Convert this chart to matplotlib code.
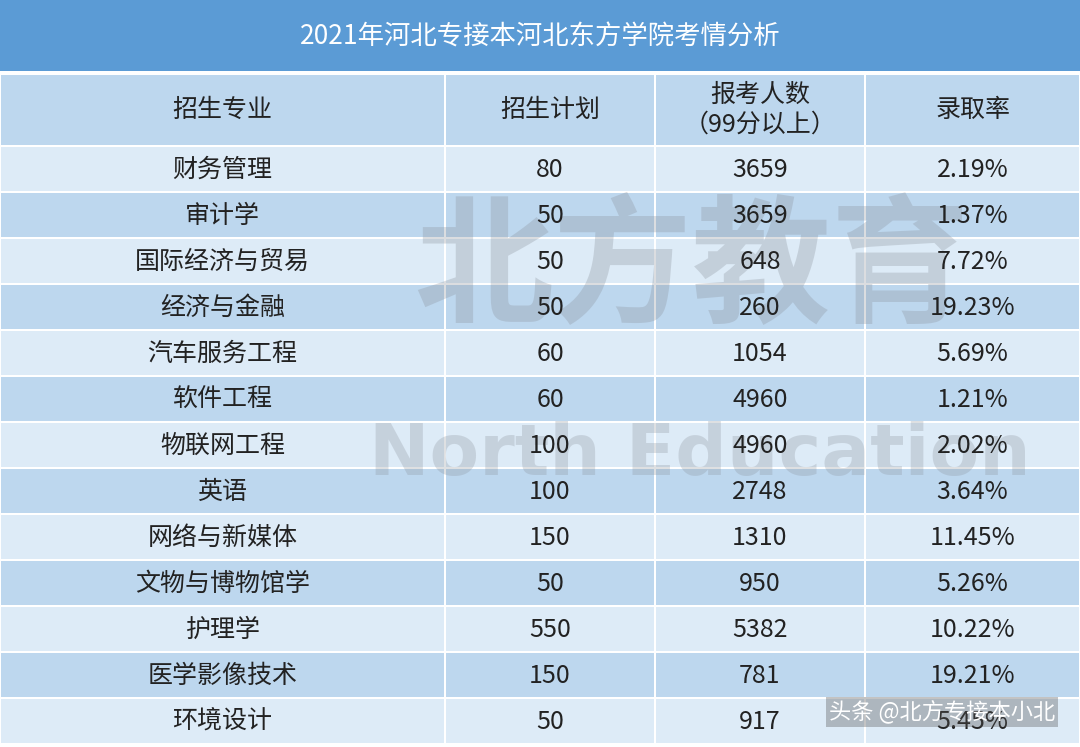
import matplotlib.pyplot as plt
from matplotlib.patches import Rectangle

plt.rcParams['font.family'] = ['Noto Sans CJK SC', 'DejaVu Sans']

title = "2021年河北专接本河北东方学院考情分析"
headers = ["招生专业", "招生计划", "报考人数\n（99分以上）", "录取率"]
majors = ["财务管理", "审计学", "国际经济与贸易", "经济与金融", "汽车服务工程", "软件工程",
          "物联网工程", "英语", "网络与新媒体", "文物与博物馆学", "护理学", "医学影像技术", "环境设计"]
plan = [80, 50, 50, 50, 60, 60, 100, 100, 150, 50, 550, 150, 50]
applicants = [3659, 3659, 648, 260, 1054, 4960, 4960, 2748, 1310, 950, 5382, 781, 917]
rate = ["2.19%", "1.37%", "7.72%", "19.23%", "5.69%", "1.21%", "2.02%", "3.64%",
        "11.45%", "5.26%", "10.22%", "19.21%", "5.45%"]

W, H = 1080, 747
col_edges = [0, 445, 655, 865, 1080]
row_h = 46
header_top, header_bot = 75, 145

fig = plt.figure(figsize=(10.8, 7.47), dpi=100)
ax = fig.add_axes([0, 0, 1, 1])
ax.set_xlim(0, W)
ax.set_ylim(H, 0)
ax.axis("off")

# title bar
ax.add_patch(Rectangle((0, 0), W, 71, color="#5B9BD5", lw=0))
ax.text(W / 2, 37, title, color="white", fontsize=19, ha="center", va="center")

# header
for i, h in enumerate(headers):
    x0, x1 = col_edges[i], col_edges[i + 1]
    ax.add_patch(Rectangle((x0 + 1, header_top), x1 - x0 - 2, header_bot - header_top,
                           color="#BDD7EE", lw=0))
    ax.text((x0 + x1) / 2, (header_top + header_bot) / 2, h, fontsize=18,
            ha="center", va="center", color="#222222", linespacing=1.2, zorder=5)

# body rows
for r, vals in enumerate(zip(majors, plan, applicants, rate)):
    y0 = header_bot + 2 + r * row_h
    fc = "#DDEBF7" if r % 2 == 0 else "#BDD7EE"
    for i, v in enumerate(vals):
        x0, x1 = col_edges[i], col_edges[i + 1]
        ax.add_patch(Rectangle((x0 + 1, y0), x1 - x0 - 2, row_h - 2, color=fc, lw=0))
        ax.text((x0 + x1) / 2, y0 + row_h / 2, str(v), fontsize=18,
                ha="center", va="center", color="#222222", zorder=5)

# watermark
ax.text(692, 272, "北方教育", fontsize=100, fontweight="bold", color="#8a9099",
        alpha=0.3, ha="center", va="center", zorder=3)
ax.text(700, 455, "North Education", fontsize=52, fontweight="bold", color="#8a9099",
        alpha=0.28, ha="center", va="center", family="DejaVu Sans", zorder=3)
ax.text(1055, 712, "头条 @北方专接本小北", fontsize=16, color="white", ha="right",
        va="center", bbox=dict(facecolor="#555555", alpha=0.35, lw=0, pad=2), zorder=6)

fig.savefig("out.png", dpi=100)
